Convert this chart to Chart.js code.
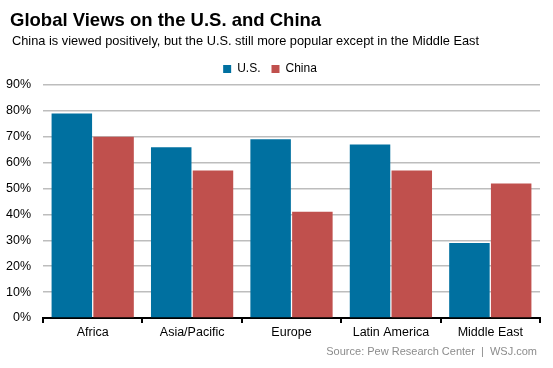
<!DOCTYPE html>
<html>
<head>
<meta charset="utf-8">
<script src="https://cdn.jsdelivr.net/npm/chart.js@4/dist/chart.umd.min.js"></script>
<style>
  body { margin: 0; background: #fff; font-family: "Liberation Sans", Arial, sans-serif; }
  #wrap { position: relative; width: 553px; height: 368px; }
  #title { position: absolute; left: 10px; top: 9px; font-size: 18.5px; font-weight: bold; color: #000; white-space: nowrap; }
  #subtitle { position: absolute; left: 12px; top: 33px; font-size: 12.8px; color: #000; white-space: nowrap; }
  #source { position: absolute; right: 16px; top: 345px; font-size: 11px; color: #8c8c8c; white-space: nowrap; }
  canvas { position: absolute; left: 0; top: 0; }
</style>
</head>
<body>
<div id="wrap">
  <canvas id="chart" width="553" height="368"></canvas>
  <div id="title">Global Views on the U.S. and China</div>
  <div id="subtitle">China is viewed positively, but the U.S. still more popular except in the Middle East</div>
  <div id="source">Source: Pew Research Center &nbsp;|&nbsp; WSJ.com</div>
</div>
<script>
// data
var regions = ["Africa", "Asia/Pacific", "Europe", "Latin America", "Middle East"];
var usValues = [79, 66, 69, 67, 29];
var chinaValues = [70, 57, 41, 57, 52];

Chart.defaults.font.family = '"Liberation Sans", Arial, sans-serif';
Chart.defaults.font.size = 12;
Chart.defaults.color = "#000";

new Chart(document.getElementById("chart"), {
  type: "bar",
  data: {
    labels: regions,
    datasets: [{
      label: "U.S.",
      backgroundColor: "#0070a0",
      data: usValues
    }, {
      label: "China",
      backgroundColor: "#c0504d",
      data: chinaValues
    }]
  },
  options: {
    responsive: false,
    animation: false,
    layout: { padding: { top: 52, left: 0, right: 13, bottom: 26 } },
    datasets: { bar: { categoryPercentage: 0.84, barPercentage: 0.97 } },
    plugins: {
      legend: {
        position: "top",
        labels: { boxWidth: 8, boxHeight: 8, padding: 11, font: { size: 12 } }
      },
      tooltip: { enabled: false }
    },
    scales: {
      x: {
        grid: { drawOnChartArea: false, drawTicks: true, tickLength: 5, color: "#000", lineWidth: 2 },
        border: { color: "#000", width: 2 },
        ticks: { padding: 2, font: { size: 12.5 } }
      },
      y: {
        min: 0,
        max: 90,
        afterFit: function(scale){ scale.width = 43; },
        ticks: { stepSize: 10, padding: 12, callback: function(v){ return v + "%"; }, font: { size: 12.5 } },
        grid: { color: "#bdbdbd", lineWidth: 1.5, drawTicks: false },
        border: { display: false }
      }
    }
  }
});
</script>
</body>
</html>
